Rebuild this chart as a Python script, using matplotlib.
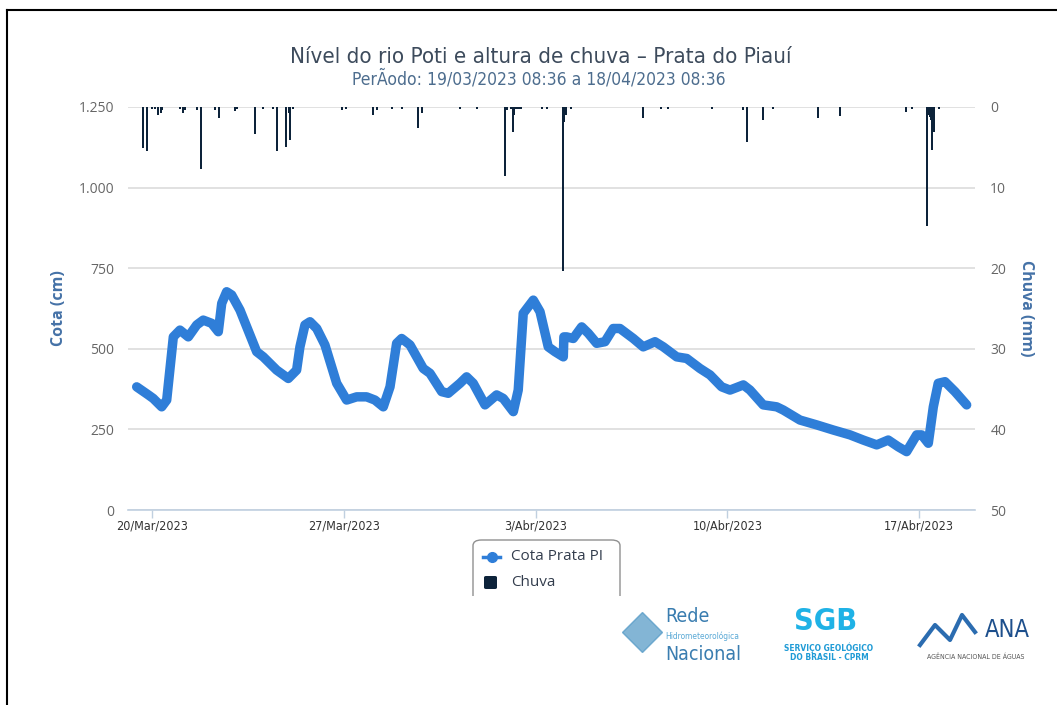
import matplotlib
matplotlib.use("Agg")
import matplotlib.pyplot as plt
from matplotlib.patches import FancyBboxPatch, Rectangle
from matplotlib.lines import Line2D

# ---------------- data (hours after 20/Mar/2023 00:00) ----------------
cota_hours = [-13.4, -3.2, 1.1, 8.5, 12.9, 18.7, 24.5, 31.8, 39.2, 44.9, 52.3, 58.1,
              61.1, 65.4, 69.8, 77.1, 91.7, 97.5, 109.2, 119.4, 126.7, 129.6, 134.0,
              138.4, 144.3, 151.5, 161.8, 170.5, 179.3, 188.0, 195.3, 202.6, 208.5,
              214.3, 218.7, 226.0, 237.6, 243.5, 253.8, 259.5, 269.8, 275.6, 281.4,
              291.7, 301.9, 307.7, 316.5, 320.8, 325.2, 334.0, 339.9, 347.1, 353.0,
              360.3, 360.8, 363.2, 369.0, 376.4, 382.2, 389.5, 396.8, 404.0, 409.9,
              421.6, 430.3, 440.6, 447.9, 459.6, 468.4, 480.0, 488.8, 499.0, 506.3,
              518.0, 523.8, 535.4, 547.2, 553.0, 567.6, 582.2, 596.8, 611.4, 623.0,
              634.8, 644.9, 653.7, 661.0, 669.8, 674.2, 680.0, 684.4, 688.7, 694.6,
              703.4, 713.6]
cota_cm = [382, 357, 346, 320, 341, 537, 558, 537, 574, 589, 579, 553,
           641, 677, 667, 620, 491, 475, 434, 408, 434, 506, 574,
           584, 563, 512, 393, 341, 351, 351, 341, 320, 382,
           517, 532, 512, 439, 424, 367, 362, 393, 413, 393,
           326, 357, 346, 305, 372, 610, 651, 615, 506, 491,
           475, 537, 537, 532, 568, 548, 517, 522, 563, 563,
           532, 506, 522, 506, 475, 470, 439, 419, 382, 372,
           388, 372, 326, 320, 310, 279, 264, 248, 233, 217,
           202, 217, 196, 181, 233, 233, 207, 320, 393, 398,
           367, 326]

chuva_hours = [-7.6, -4.1, -0.3, 2.6, 5.5, 7.9, 9.0, 24.5, 26.9, 28.9, 39.7, 43.2,
               55.2, 58.4, 72.7, 74.7, 90.5, 97.5, 106.2, 109.2, 117.4, 120.0, 121.1,
               123.2, 166.2, 169.7, 193.8, 197.3, 210.0, 219.2, 233.3, 236.2, 269.8,
               284.4, 309.2, 310.7, 314.2, 315.3, 316.5, 317.3, 318.4, 319.7, 321.5,
               323.2, 341.3, 345.7, 359.7, 360.9, 362.4, 366.7, 429.8, 445.8, 451.7,
               490.2, 517.9, 521.1, 535.4, 544.2, 583.6, 602.9, 660.4, 665.4, 678.8,
               680.1, 681.5, 682.4, 683.5, 685.0, 689.4]
chuva_mm = [5.1, 5.5, 0.3, 0.3, 1.0, 0.8, 0.4, 0.3, 0.7, 0.4, 0.4, 7.7,
            0.4, 1.4, 0.5, 0.3, 3.3, 0.3, 0.3, 5.5, 5.0, 0.7, 4.1,
            0.3, 0.4, 0.3, 1.0, 0.4, 0.3, 0.3, 2.6, 0.7, 0.3,
            0.3, 8.6, 0.4, 0.3, 0.3, 3.1, 1.0, 0.3, 0.3, 0.3,
            0.3, 0.3, 0.3, 20.3, 1.8, 1.0, 0.3, 1.4, 0.3, 0.3,
            0.3, 0.4, 4.3, 1.6, 0.3, 1.4, 1.1, 0.6, 0.3, 14.8,
            1.0, 1.2, 1.6, 5.3, 3.1, 0.3]

cota_ticks = [0, 250, 500, 750, 1000, 1250]
cota_ticklabels = ["0", "250", "500", "750", "1.000", "1.250"]
chuva_ticks = [0, 10, 20, 30, 40, 50]
date_ticks = [0, 168, 336, 504, 672]
date_labels = ["20/Mar/2023", "27/Mar/2023", "3/Abr/2023", "10/Abr/2023", "17/Abr/2023"]

title = "Nível do rio Poti e altura de chuva – Prata do Piauí"
subtitle = "PerÃodo: 19/03/2023 08:36 a 18/04/2023 08:36"

# ---------------- figure ----------------
W, H = 1057, 705
fig = plt.figure(figsize=(W / 100, H / 100), dpi=100)
fig.patch.set_facecolor("white")

def fx(x):
    return x / W

def fy(y):
    return 1 - y / H

NARROW = dict(family="DejaVu Sans", stretch="condensed")
SANS = ["Open Sans", "DejaVu Sans"]

# outer border
fig.add_artist(Line2D([fx(7), fx(7)], [fy(10), fy(705)], color="black", lw=1.5))
fig.add_artist(Line2D([fx(7), fx(1057)], [fy(10), fy(10)], color="black", lw=1.5))

ax = fig.add_axes([fx(128), fy(510), fx(975) - fx(128), fy(107) - fy(510)])
ax2 = ax.twinx()

ax.set_xlim(-21.0, 720.9)
ax.set_ylim(0, 1250)
ax2.set_ylim(50, 0)

for s in ["top", "right", "left"]:
    ax.spines[s].set_visible(False)
    ax2.spines[s].set_visible(False)
ax2.spines["bottom"].set_visible(False)
ax.spines["bottom"].set_color("#c0d0e0")
ax.spines["bottom"].set_linewidth(1.2)

ax.set_yticks(cota_ticks)
ax.set_yticklabels(cota_ticklabels)
ax.yaxis.grid(True, color="#d8d8d8", lw=1.1)
ax.set_axisbelow(True)
ax.tick_params(axis="y", length=0, pad=10, labelsize=10, labelcolor="#666666")
for t in ax.get_yticklabels():
    t.set_family(SANS)
ax2.set_yticks(chuva_ticks)
ax2.tick_params(axis="y", length=0, pad=11, labelsize=10, labelcolor="#666666")
for t in ax2.get_yticklabels():
    t.set_family(SANS)

ax.set_xticks(date_ticks)
ax.set_xticklabels(date_labels)
ax.tick_params(axis="x", length=6, width=1, color="#c0d0e0", pad=1,
               labelsize=9, labelcolor="#333333")
for t in ax.get_xticklabels():
    t.set_family("DejaVu Sans")
    t.set_stretch("condensed")

ax.set_ylabel("Cota (cm)", color="#4572a7", fontsize=11.5, fontweight="bold",
              family=SANS, labelpad=8)
ax2.set_ylabel("Chuva (mm)", color="#4572a7", fontsize=11.5, fontweight="bold",
               family=SANS, rotation=270, labelpad=20)

ax.plot(cota_hours, cota_cm, color="#2f7ed8", lw=6.8, solid_joinstyle="round",
        solid_capstyle="round", zorder=3)
ax2.bar(chuva_hours, chuva_mm, width=1.6, color="#0d233a", zorder=4)

# titles
fig.text(fx(541), fy(57), title, ha="center", va="center", fontsize=16,
         color="#3d4b5c", **NARROW)
fig.text(fx(539), fy(79), subtitle, ha="center", va="center", fontsize=12.5,
         color="#4d6d8e", **NARROW)

# legend box (bottom cut off)
clip = Rectangle((fx(460), fy(596)), fx(180), fy(530) - fy(596), transform=fig.transFigure,
                 visible=False)
fig.add_artist(clip)
box = FancyBboxPatch((fx(473), fy(620)), fx(147), fy(540) - fy(620),
                     boxstyle="round,pad=0,rounding_size=0.008",
                     transform=fig.transFigure, facecolor="white",
                     edgecolor="#909090", lw=1)
box.set_clip_path(clip)
fig.add_artist(box)
fig.add_artist(Line2D([fx(483), fx(500)], [fy(557), fy(557)], color="#2f7ed8", lw=2.5))
fig.add_artist(Line2D([fx(491.5)], [fy(557)], marker="o", markersize=7,
                      color="#2f7ed8", lw=0))
fig.add_artist(FancyBboxPatch((fx(484), fy(589)), fx(13), fy(576) - fy(589),
                              boxstyle="round,pad=0,rounding_size=0.002",
                              transform=fig.transFigure, facecolor="#0d233a",
                              edgecolor="none"))
fig.text(fx(511), fy(557), "Cota Prata PI", ha="left", va="center", fontsize=11,
         color="#333d4d", family=SANS)
fig.text(fx(511), fy(582), "Chuva", ha="left", va="center", fontsize=11,
         color="#333d4d", family=SANS)

# logos (text approximations)
fig.text(fx(665), fy(617), "Rede", ha="left", va="center", fontsize=14,
         color="#3a7db0", **NARROW)
fig.text(fx(665), fy(636), "Hidrometeorológica", ha="left", va="center", fontsize=6,
         color="#5aa9d6", **NARROW)
fig.text(fx(665), fy(654), "Nacional", ha="left", va="center", fontsize=14,
         color="#3a7db0", **NARROW)
fig.add_artist(Line2D([fx(642)], [fy(632)], marker="D", markersize=20,
                      color="#4e96c4", alpha=0.7, lw=0))
fig.text(fx(826), fy(622), "SGB", ha="center", va="center", fontsize=22,
         fontweight="bold", color="#1fb2e6", **NARROW)
fig.text(fx(829), fy(648), "SERVIÇO GEOLÓGICO", ha="center", va="center", fontsize=6,
         fontweight="bold", color="#1f9bd6", **NARROW)
fig.text(fx(829), fy(657), "DO BRASIL - CPRM", ha="center", va="center", fontsize=6,
         fontweight="bold", color="#1f9bd6", **NARROW)
fig.text(fx(1007), fy(630), "ANA", ha="center", va="center", fontsize=17,
         color="#1d4f8c", **NARROW)
fig.add_artist(Line2D([fx(920), fx(935), fx(950), fx(962), fx(975)],
                      [fy(645), fy(625), fy(640), fy(615), fy(632)],
                      color="#2b6cb0", lw=3))
fig.text(fx(976), fy(657), "AGÊNCIA NACIONAL DE ÁGUAS", ha="center", va="center",
         fontsize=5, color="#555555", **NARROW)

fig.savefig("out.png", dpi=100, facecolor="white")
